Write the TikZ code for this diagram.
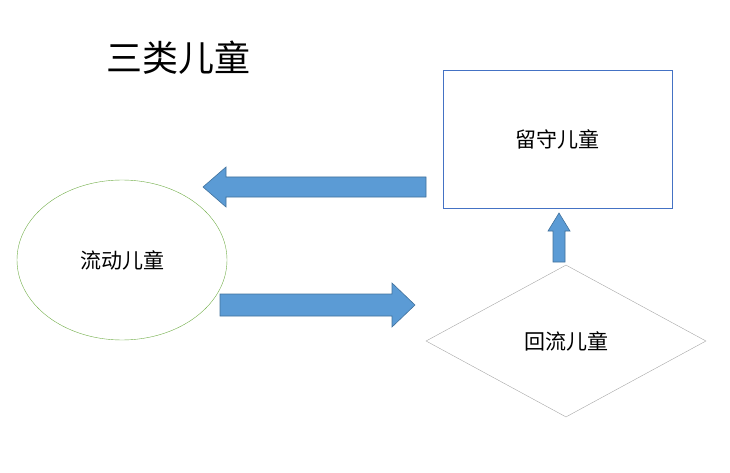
\documentclass[tikz,border=0pt]{standalone}
\usepackage{fontspec}
\newfontfamily\cjk{Noto Sans CJK SC}
\usetikzlibrary{shapes.geometric}
\definecolor{arrowblue}{HTML}{5B9BD5}
\definecolor{arrowedge}{HTML}{41719C}
\definecolor{boxblue}{HTML}{4472C4}
\definecolor{ovalgreen}{HTML}{70AD47}
\tikzset{
  label/.style={font=\cjk\fontsize{21}{24}\selectfont},
  blockarrow/.style={fill=arrowblue, draw=arrowedge, line width=0.6pt}
}
\begin{document}
\begin{tikzpicture}[x=1pt,y=-1pt]
\useasboundingbox (0,0) rectangle (730,473);
\node[font=\cjk\fontsize{36}{40}\selectfont] (title) at (178,58) {三类儿童};
\node[draw=boxblue, minimum width=229pt, minimum height=138pt, label] (liushou) at (557.5,139) {留守儿童};
\node[draw=ovalgreen, ellipse, minimum width=210pt, minimum height=160pt, label] (liudong) at (122,260) {流动儿童};
\node[draw=gray!70, diamond, aspect=1.87, minimum width=280pt, minimum height=152pt, inner sep=0pt, label] (huiliu) at (566,341) {回流儿童};
% block arrows
\draw[blockarrow] (426,177) -- (226,177) -- (226,167) -- (203,187) -- (226,207) -- (226,197) -- (426,197) -- cycle;
\draw[blockarrow] (220,294) -- (392,294) -- (392,283) -- (415,305) -- (392,327) -- (392,316) -- (220,316) -- cycle;
\draw[blockarrow] (553,262) -- (553,231) -- (548,231) -- (559,213) -- (570,231) -- (565,231) -- (565,262) -- cycle;
\end{tikzpicture}
\end{document}
